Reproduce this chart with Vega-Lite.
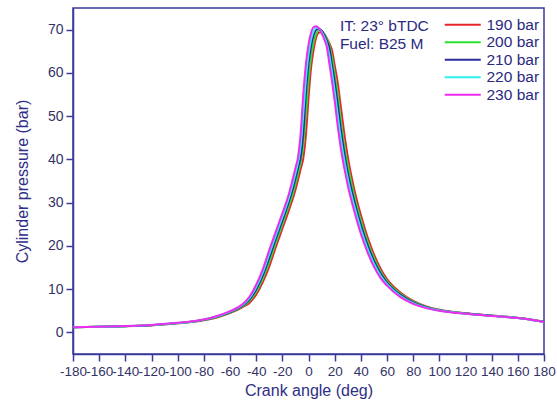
{
  "$schema": "https://vega.github.io/schema/vega-lite/v6.json",
  "width": 471,
  "height": 346,
  "autosize": "none",
  "padding": {"left": 73, "top": 8, "right": 13, "bottom": 53},
  "background": "white",
  "config": {
    "font": "Liberation Sans",
    "view": {"stroke": "#3a3a9a", "strokeWidth": 1.5},
    "axis": {
      "grid": false,
      "domainColor": "#3a3a9a",
      "domainWidth": 1.5,
      "tickColor": "#3a3a9a",
      "tickWidth": 1.5,
      "tickSize": 7,
      "labelColor": "#333366",
      "labelFont": "Liberation Sans",
      "titleFont": "Liberation Sans",
      "titleColor": "#2e2e86",
      "titleFontWeight": "normal",
      "titleFontSize": 16
    }
  },
  "data": {
    "values": [
      {"a": -180, "190 bar": 1.2, "200 bar": 1.2, "210 bar": 1.2, "220 bar": 1.2, "230 bar": 1.2},
      {"a": -160, "190 bar": 1.3, "200 bar": 1.3, "210 bar": 1.3, "220 bar": 1.3, "230 bar": 1.3},
      {"a": -140, "190 bar": 1.42, "200 bar": 1.43, "210 bar": 1.44, "220 bar": 1.44, "230 bar": 1.45},
      {"a": -120, "190 bar": 1.65, "200 bar": 1.66, "210 bar": 1.67, "220 bar": 1.69, "230 bar": 1.7},
      {"a": -100, "190 bar": 2.1, "200 bar": 2.13, "210 bar": 2.15, "220 bar": 2.18, "230 bar": 2.2},
      {"a": -90, "190 bar": 2.37, "200 bar": 2.41, "210 bar": 2.44, "220 bar": 2.47, "230 bar": 2.5},
      {"a": -80, "190 bar": 2.79, "200 bar": 2.85, "210 bar": 2.9, "220 bar": 2.95, "230 bar": 3.0},
      {"a": -70, "190 bar": 3.46, "200 bar": 3.56, "210 bar": 3.64, "220 bar": 3.72, "230 bar": 3.8},
      {"a": -60, "190 bar": 4.44, "200 bar": 4.57, "210 bar": 4.68, "220 bar": 4.79, "230 bar": 4.9},
      {"a": -50, "190 bar": 5.89, "200 bar": 6.09, "210 bar": 6.26, "220 bar": 6.43, "230 bar": 6.6},
      {"a": -45, "190 bar": 6.87, "200 bar": 7.28, "210 bar": 7.62, "220 bar": 7.96, "230 bar": 8.3},
      {"a": -40, "190 bar": 8.73, "200 bar": 9.38, "210 bar": 9.92, "220 bar": 10.46, "230 bar": 11.0},
      {"a": -35, "190 bar": 11.56, "200 bar": 12.4, "210 bar": 13.1, "220 bar": 13.8, "230 bar": 14.5},
      {"a": -30, "190 bar": 15.22, "200 bar": 16.3, "210 bar": 17.2, "220 bar": 18.1, "230 bar": 19.0},
      {"a": -25, "190 bar": 19.69, "200 bar": 20.72, "210 bar": 21.58, "220 bar": 22.44, "230 bar": 23.3},
      {"a": -20, "190 bar": 23.97, "200 bar": 24.98, "210 bar": 25.82, "220 bar": 26.66, "230 bar": 27.5},
      {"a": -15, "190 bar": 28.22, "200 bar": 29.3, "210 bar": 30.2, "220 bar": 31.1, "230 bar": 32.0},
      {"a": -12, "190 bar": 30.92, "200 bar": 32.0, "210 bar": 33.17, "220 bar": 34.33, "230 bar": 35.5},
      {"a": -10, "190 bar": 32.94, "200 bar": 34.33, "210 bar": 35.5, "220 bar": 36.75, "230 bar": 38.0},
      {"a": -8, "190 bar": 35.27, "200 bar": 36.75, "210 bar": 38.0, "220 bar": 39.25, "230 bar": 40.5},
      {"a": -6, "190 bar": 37.75, "200 bar": 39.25, "210 bar": 40.5, "220 bar": 43.25, "230 bar": 46.0},
      {"a": -4, "190 bar": 40.25, "200 bar": 43.25, "210 bar": 46.0, "220 bar": 50.5, "230 bar": 55.0},
      {"a": -2, "190 bar": 45.55, "200 bar": 50.5, "210 bar": 55.0, "220 bar": 58.5, "230 bar": 62.0},
      {"a": 0, "190 bar": 54.1, "200 bar": 58.3, "210 bar": 62.0, "220 bar": 64.25, "230 bar": 66.5},
      {"a": 2, "190 bar": 61.3, "200 bar": 63.8, "210 bar": 66.2, "220 bar": 67.8, "230 bar": 69.3},
      {"a": 4, "190 bar": 65.5, "200 bar": 67.2, "210 bar": 68.8, "220 bar": 69.7, "230 bar": 70.6},
      {"a": 6, "190 bar": 68.3, "200 bar": 69.1, "210 bar": 70.0, "220 bar": 70.45, "230 bar": 70.8},
      {"a": 8, "190 bar": 69.3, "200 bar": 69.8, "210 bar": 70.2, "220 bar": 70.3, "230 bar": 70.3},
      {"a": 10, "190 bar": 69.4, "200 bar": 69.7, "210 bar": 69.8, "220 bar": 69.5, "230 bar": 69.2},
      {"a": 12, "190 bar": 69.0, "200 bar": 69.0, "210 bar": 68.8, "220 bar": 68.3, "230 bar": 67.8},
      {"a": 14, "190 bar": 68.0, "200 bar": 67.8, "210 bar": 67.4, "220 bar": 66.7, "230 bar": 66.0},
      {"a": 16, "190 bar": 66.8, "200 bar": 66.3, "210 bar": 65.7, "220 bar": 63.9, "230 bar": 62.0},
      {"a": 18, "190 bar": 65.2, "200 bar": 63.6, "210 bar": 61.8, "220 bar": 60.0, "230 bar": 58.0},
      {"a": 20, "190 bar": 61.8, "200 bar": 59.8, "210 bar": 58.0, "220 bar": 55.75, "230 bar": 53.5},
      {"a": 22, "190 bar": 58.4, "200 bar": 55.75, "210 bar": 53.5, "220 bar": 51.0, "230 bar": 48.5},
      {"a": 25, "190 bar": 51.5, "200 bar": 48.5, "210 bar": 46.33, "220 bar": 44.17, "230 bar": 42.0},
      {"a": 28, "190 bar": 44.6, "200 bar": 42.0, "210 bar": 40.33, "220 bar": 38.67, "230 bar": 37.0},
      {"a": 30, "190 bar": 40.67, "200 bar": 38.67, "210 bar": 37.0, "220 bar": 35.5, "230 bar": 34.0},
      {"a": 35, "190 bar": 33.04, "200 bar": 31.6, "210 bar": 30.4, "220 bar": 29.2, "230 bar": 28.0},
      {"a": 40, "190 bar": 27.17, "200 bar": 25.92, "210 bar": 24.88, "220 bar": 23.84, "230 bar": 22.8},
      {"a": 45, "190 bar": 22.13, "200 bar": 21.12, "210 bar": 20.28, "220 bar": 19.44, "230 bar": 18.6},
      {"a": 50, "190 bar": 18.06, "200 bar": 17.24, "210 bar": 16.56, "220 bar": 15.88, "230 bar": 15.2},
      {"a": 55, "190 bar": 14.78, "200 bar": 14.16, "210 bar": 13.64, "220 bar": 13.12, "230 bar": 12.6},
      {"a": 60, "190 bar": 12.31, "200 bar": 11.88, "210 bar": 11.52, "220 bar": 11.16, "230 bar": 10.8},
      {"a": 70, "190 bar": 9.29, "200 bar": 8.98, "210 bar": 8.72, "220 bar": 8.46, "230 bar": 8.2},
      {"a": 80, "190 bar": 7.27, "200 bar": 7.08, "210 bar": 6.92, "220 bar": 6.76, "230 bar": 6.6},
      {"a": 90, "190 bar": 6.02, "200 bar": 5.9, "210 bar": 5.8, "220 bar": 5.7, "230 bar": 5.6},
      {"a": 100, "190 bar": 5.25, "200 bar": 5.18, "210 bar": 5.12, "220 bar": 5.06, "230 bar": 5.0},
      {"a": 110, "190 bar": 4.77, "200 bar": 4.72, "210 bar": 4.68, "220 bar": 4.64, "230 bar": 4.6},
      {"a": 120, "190 bar": 4.43, "200 bar": 4.39, "210 bar": 4.36, "220 bar": 4.33, "230 bar": 4.3},
      {"a": 140, "190 bar": 3.88, "200 bar": 3.86, "210 bar": 3.84, "220 bar": 3.82, "230 bar": 3.8},
      {"a": 160, "190 bar": 3.36, "200 bar": 3.35, "210 bar": 3.33, "220 bar": 3.32, "230 bar": 3.3},
      {"a": 170, "190 bar": 2.98, "200 bar": 2.96, "210 bar": 2.94, "220 bar": 2.92, "230 bar": 2.9},
      {"a": 180, "190 bar": 2.45, "200 bar": 2.44, "210 bar": 2.43, "220 bar": 2.42, "230 bar": 2.4}
    ]
  },
  "encoding": {
    "x": {
      "field": "a", "type": "quantitative",
      "scale": {"domain": [-180, 180], "nice": false, "zero": false},
      "axis": {
        "title": "Crank angle (deg)",
        "values": [-180, -160, -140, -120, -100, -80, -60, -40, -20, 0, 20, 40, 60, 80, 100, 120, 140, 160, 180],
        "labelExpr": "'' + datum.value",
        "labelFontSize": 13.5,
        "labelOverlap": false,
        "labelSeparation": -20,
        "labelBound": false,
        "labelFlush": false,
        "labelPadding": 3,
        "titlePadding": 5
      }
    },
    "y": {
      "field": "pressure", "type": "quantitative",
      "scale": {"domain": [-5, 75], "nice": false, "zero": false},
      "axis": {
        "title": "Cylinder pressure (bar)",
        "values": [0, 10, 20, 30, 40, 50, 60, 70],
        "labelFontSize": 14,
        "labelPadding": 3,
        "titlePadding": 17
      }
    }
  },
  "layer": [
    {
      "transform": [
        {"fold": ["190 bar", "200 bar", "210 bar", "220 bar", "230 bar"], "as": ["series", "pressure"]}
      ],
      "mark": {"type": "line", "strokeWidth": 2, "interpolate": "monotone", "clip": true},
      "encoding": {
        "color": {
          "field": "series", "type": "nominal",
          "scale": {
            "domain": ["190 bar", "200 bar", "210 bar", "220 bar", "230 bar"],
            "range": ["#e8242c", "#2ee02e", "#2c2ca0", "#2ef0f0", "#ee2cee"]
          },
          "legend": {
            "orient": "none",
            "legendX": 382,
            "legendY": 9,
            "title": null,
            "padding": 0,
            "symbolType": "M-3,0H3",
            "symbolSize": 144,
            "symbolStrokeWidth": 2,
            "labelOffset": 16,
            "labelFontSize": 15.5,
            "labelColor": "#2a2a80",
            "labelFont": "Liberation Sans",
            "rowPadding": 0.5
          }
        }
      }
    },
    {
      "data": {
        "values": [
          {"a": 24, "pressure": 70.9, "t": "IT: 23° bTDC"},
          {"a": 24, "pressure": 66.7, "t": "Fuel: B25 M"}
        ]
      },
      "mark": {"type": "text", "align": "left", "baseline": "middle", "fontSize": 15.5, "color": "#2a2a80", "font": "Liberation Sans"},
      "encoding": {
        "text": {"field": "t"}
      }
    }
  ]
}
